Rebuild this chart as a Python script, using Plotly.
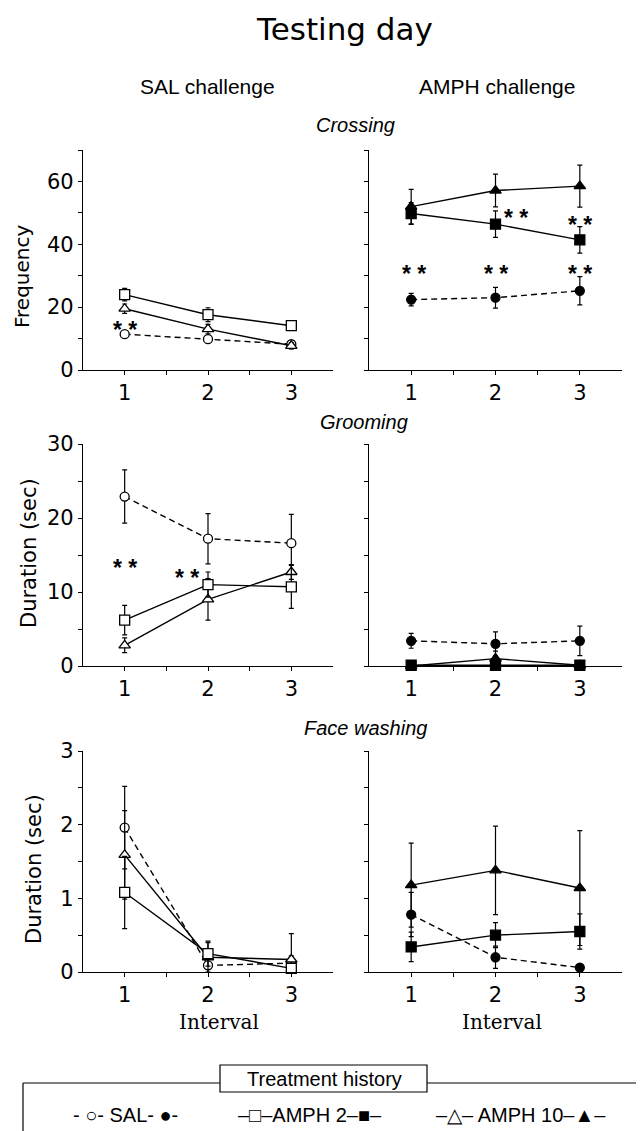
import plotly.graph_objects as go

# page body has an 8px margin; the figure is sized to fill the rest of the window
OFF = 8
W, H = 644 - OFF, 1131 - OFF

intervals = [1, 2, 3]

# Crossing (frequency)
cross_sal_open = [11.4, 9.8, 8.2]
cross_sal_open_err = [0.8, 0.8, 0.8]
cross_a2_open = [24.0, 17.6, 14.1]
cross_a2_open_err = [2.0, 2.2, 1.5]
cross_a10_open = [19.5, 13.0, 7.7]
cross_a10_open_err = [1.5, 1.5, 1.0]

cross_sal_fill = [22.4, 23.0, 25.2]
cross_sal_fill_err = [2.0, 3.3, 4.5]
cross_a2_fill = [49.8, 46.4, 41.4]
cross_a2_fill_err = [3.5, 4.2, 4.2]
cross_a10_fill = [52.0, 57.1, 58.5]
cross_a10_fill_err = [5.5, 5.2, 6.7]

# Grooming (duration, sec)
groom_sal_open = [22.9, 17.2, 16.6]
groom_sal_open_err = [3.6, 3.4, 3.9]
groom_a2_open = [6.2, 11.0, 10.7]
groom_a2_open_err = [2.0, 1.7, 2.9]
groom_a10_open = [2.8, 9.0, 12.7]
groom_a10_open_err = [1.0, 2.8, 1.0]

groom_sal_fill = [3.4, 3.0, 3.4]
groom_sal_fill_err = [1.0, 1.6, 2.0]
groom_a2_fill = [0.1, 0.1, 0.1]
groom_a2_fill_err = [0.0, 0.0, 0.0]
groom_a10_fill = [0.0, 1.0, 0.1]
groom_a10_fill_err = [0.0, 1.0, 0.0]

# Face washing (duration, sec)
face_sal_open = [1.96, 0.09, 0.12]
face_sal_open_err = [0.56, 0.10, 0.10]
face_a2_open = [1.08, 0.25, 0.05]
face_a2_open_err = [0.49, 0.17, 0.05]
face_a10_open = [1.59, 0.20, 0.17]
face_a10_open_err = [0.60, 0.20, 0.35]

face_sal_fill = [0.78, 0.20, 0.06]
face_sal_fill_err = [0.30, 0.15, 0.0]
face_a2_fill = [0.34, 0.50, 0.55]
face_a2_fill_err = [0.20, 0.17, 0.24]
face_a10_fill = [1.18, 1.38, 1.14]
face_a10_fill_err = [0.57, 0.60, 0.78]

row_titles = ["Crossing", "Grooming", "Face washing"]
col_titles = ["SAL challenge", "AMPH challenge"]
y_titles = ["Frequency", "Duration (sec)", "Duration (sec)"]
x_tick_labels = ["1", "", "2", "", "3"]
y_ticks = [
    ([0, 10, 20, 30, 40, 50, 60, 70], ["0", "", "20", "", "40", "", "60", ""], 70),
    ([0, 5, 10, 15, 20, 25, 30], ["0", "", "10", "", "20", "", "30"], 30),
    ([0, 0.5, 1, 1.5, 2, 2.5, 3], ["0", "", "1", "", "2", "", "3"], 3),
]
legend_items = ["- ○- SAL- ●-", "–□–AMPH 2–■–", "–△– AMPH 10–▲–"]


def px2x(p):
    return (p - OFF) / W


def px2y(p):
    return 1 - (p - OFF) / H


col_dom = [[px2x(83), px2x(333)], [px2x(369), px2x(622)]]
row_dom = [[px2y(370), px2y(150)], [px2y(666), px2y(444)], [px2y(972), px2y(751)]]

fig = go.Figure()

panels = [
    (0, 0, [(cross_sal_open, cross_sal_open_err, "circle", "dash", False),
            (cross_a10_open, cross_a10_open_err, "triangle-up", "solid", False),
            (cross_a2_open, cross_a2_open_err, "square", "solid", False)]),
    (0, 1, [(cross_sal_fill, cross_sal_fill_err, "circle", "dash", True),
            (cross_a10_fill, cross_a10_fill_err, "triangle-up", "solid", True),
            (cross_a2_fill, cross_a2_fill_err, "square", "solid", True)]),
    (1, 0, [(groom_sal_open, groom_sal_open_err, "circle", "dash", False),
            (groom_a10_open, groom_a10_open_err, "triangle-up", "solid", False),
            (groom_a2_open, groom_a2_open_err, "square", "solid", False)]),
    (1, 1, [(groom_sal_fill, groom_sal_fill_err, "circle", "dash", True),
            (groom_a10_fill, groom_a10_fill_err, "triangle-up", "solid", True),
            (groom_a2_fill, groom_a2_fill_err, "square", "solid", True)]),
    (2, 0, [(face_sal_open, face_sal_open_err, "circle", "dash", False),
            (face_a10_open, face_a10_open_err, "triangle-up", "solid", False),
            (face_a2_open, face_a2_open_err, "square", "solid", False)]),
    (2, 1, [(face_sal_fill, face_sal_fill_err, "circle", "dash", True),
            (face_a10_fill, face_a10_fill_err, "triangle-up", "solid", True),
            (face_a2_fill, face_a2_fill_err, "square", "solid", True)]),
]

axis_common = dict(
    showline=True, linecolor="black", linewidth=1.2, showgrid=False, zeroline=False,
    ticks="outside", ticklen=4, tickwidth=1, tickcolor="black", automargin=False,
    tickfont=dict(family="DejaVu Sans", size=21, color="black"),
)

layout_axes = {}
for (r, c, series) in panels:
    idx = r * 2 + c + 1
    xa = "x" if idx == 1 else f"x{idx}"
    ya = "y" if idx == 1 else f"y{idx}"
    for (yv, ev, sym, dash, filled) in series:
        size = 9 if sym == "circle" else 10
        fig.add_trace(go.Scatter(
            x=intervals, y=yv, xaxis=xa, yaxis=ya, mode="lines+markers",
            line=dict(color="black", width=1.4, dash="6px,4px" if dash == "dash" else "solid"),
            marker=dict(symbol=sym, size=size, color="black" if filled else "white",
                        line=dict(color="black", width=1.3)),
            error_y=dict(type="data", array=ev, visible=True, color="black", thickness=1.2, width=2.5),
            cliponaxis=False, showlegend=False,
        ))
    tv, tt, top = y_ticks[r]
    layout_axes["xaxis" if idx == 1 else f"xaxis{idx}"] = dict(
        axis_common, domain=col_dom[c], range=[0.5, 3.5], anchor=ya,
        tickvals=[1, 1.5, 2, 2.5, 3], ticktext=x_tick_labels)
    layout_axes["yaxis" if idx == 1 else f"yaxis{idx}"] = dict(
        axis_common, domain=row_dom[r], range=[0, top], anchor=xa,
        tickvals=tv, ticktext=tt if c == 0 else [""] * len(tv))

fig.update_layout(**layout_axes)

ann = []
ann.append(dict(text="Testing day", x=px2x(344), y=px2y(29), font=dict(family="DejaVu Sans", size=31)))
ann.append(dict(text=col_titles[0], x=px2x(207), y=px2y(86), font=dict(family="Liberation Sans", size=21)))
ann.append(dict(text=col_titles[1], x=px2x(497), y=px2y(86), font=dict(family="Liberation Sans", size=21)))
for t, xp, yp in zip(row_titles, [355, 364, 365], [125, 422, 728]):
    ann.append(dict(text=f"<i>{t}</i>", x=px2x(xp), y=px2y(yp), font=dict(family="Liberation Sans", size=20)))
for t, xp, yp, fs in zip(y_titles, [22, 29, 34], [277, 553, 869], [20, 21, 21]):
    ann.append(dict(text=t, x=px2x(xp), y=px2y(yp), textangle=-90, font=dict(family="DejaVu Sans", size=fs)))
for xp in [219, 502]:
    ann.append(dict(text="Interval", x=px2x(xp), y=px2y(1022), font=dict(family="DejaVu Serif", size=20)))

# significance stars (data coordinates)
stars = [
    ("x", "y", 1.0, 14.7),
    ("x2", "y2", 2.24, 50.4), ("x2", "y2", 3.0, 48.0),
    ("x2", "y2", 1.03, 32.5), ("x2", "y2", 2.0, 32.5), ("x2", "y2", 3.0, 32.5),
    ("x3", "y3", 1.0, 14.1), ("x3", "y3", 1.75, 12.7),
]
for xr, yr, xv, yv in stars:
    ann.append(dict(text="<b>* *</b>", x=xv, y=yv, xref=xr, yref=yr, yshift=-6,
                    font=dict(family="Liberation Sans", size=23)))

# legend
ann.append(dict(text="Treatment history", x=px2x(324), y=px2y(1079), font=dict(family="Liberation Sans", size=20)))
for t, xp in zip(legend_items, [126, 310, 521]):
    ann.append(dict(text=t, x=px2x(xp), y=px2y(1115), font=dict(family="Liberation Sans", size=20)))

for a in ann:
    a.setdefault("xref", "paper")
    a.setdefault("yref", "paper")
    a["showarrow"] = False
    a["xanchor"] = "center"
    a["yanchor"] = "middle"
    a["font"]["color"] = "black"
fig.update_layout(annotations=ann)

line = dict(color="black", width=1.2)
shapes = [
    dict(type="line", xref="paper", yref="paper", x0=px2x(23), x1=px2x(220), y0=px2y(1083), y1=px2y(1083), line=line),
    dict(type="line", xref="paper", yref="paper", x0=px2x(427), x1=1, y0=px2y(1083), y1=px2y(1083), line=line),
    dict(type="line", xref="paper", yref="paper", x0=px2x(23), x1=px2x(23), y0=px2y(1083), y1=0, line=line),
    dict(type="rect", xref="paper", yref="paper", x0=px2x(220), x1=px2x(427), y0=px2y(1092), y1=px2y(1065), line=line),
]
fig.update_layout(shapes=shapes)

fig.update_layout(width=W, height=H, margin=dict(l=0, r=0, t=0, b=0, autoexpand=False),
                  paper_bgcolor="white", plot_bgcolor="white", showlegend=False)

fig.write_html("out.html")
